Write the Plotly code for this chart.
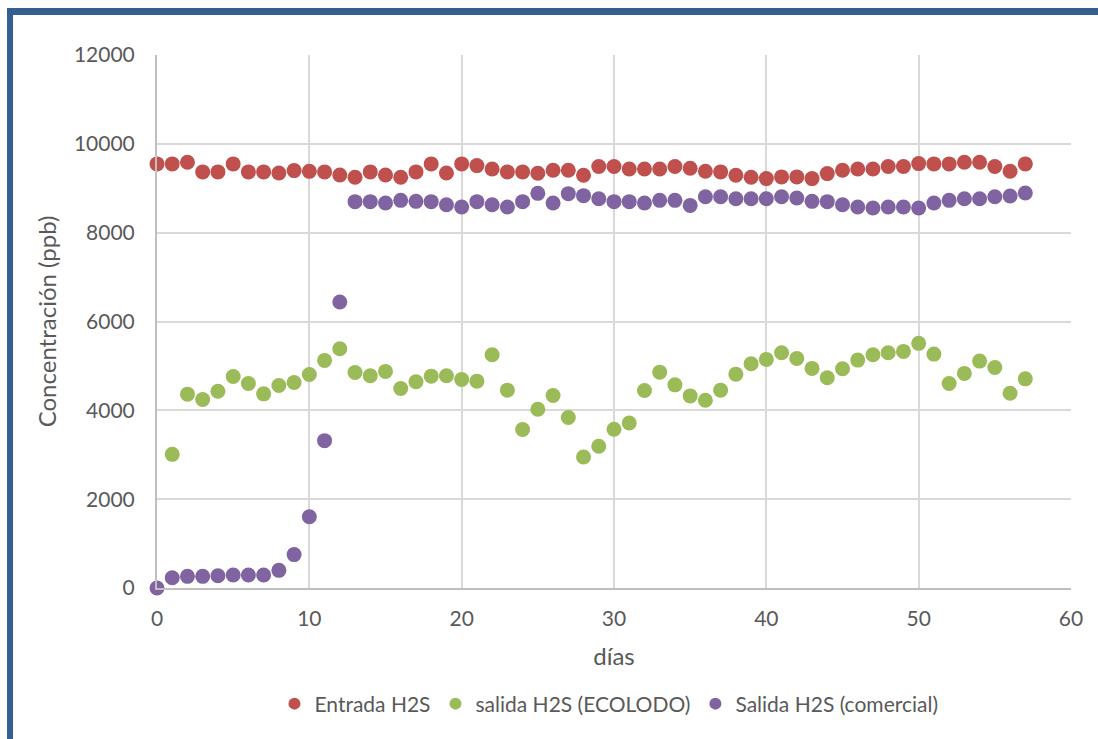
import plotly.graph_objects as go

dias = list(range(0, 58))

entrada_h2s = [9548, 9548, 9585, 9368, 9368, 9548, 9368, 9368, 9345, 9397,
               9380, 9368, 9300, 9246, 9368, 9300, 9246, 9368, 9548, 9345,
               9548, 9510, 9435, 9368, 9368, 9338, 9405, 9405, 9292, 9488,
               9488, 9435, 9435, 9435, 9488, 9450, 9383, 9368, 9292, 9246,
               9217, 9255, 9255, 9217, 9330, 9405, 9435, 9435, 9488, 9488,
               9555, 9548, 9548, 9585, 9585, 9488, 9383, 9548]

dias_ecolodo = list(range(1, 58))
salida_ecolodo = [3009, 4364, 4244, 4431, 4763, 4605, 4371, 4560, 4627,
                  4808, 5124, 5386, 4853, 4777, 4876, 4492, 4642, 4770, 4777,
                  4695, 4657, 5251, 4454, 3567, 4025, 4334, 3838, 2948, 3190,
                  3573, 3716, 4447, 4860, 4574, 4325, 4228, 4454, 4815, 5048,
                  5147, 5296, 5169, 4944, 4732, 4936, 5131, 5251, 5296, 5327,
                  5508, 5266, 4605, 4831, 5108, 4966, 4386, 4709]

salida_comercial = [0, 232, 262, 262, 275, 293, 293, 293, 397, 752,
                    1603, 3318, 6440, 8698, 8698, 8668, 8728, 8705, 8698, 8630,
                    8578, 8698, 8630, 8578, 8698, 8885, 8668, 8878, 8833, 8765,
                    8698, 8698, 8668, 8728, 8728, 8614, 8810, 8810, 8765, 8765,
                    8765, 8810, 8780, 8705, 8698, 8630, 8578, 8555, 8578, 8578,
                    8555, 8668, 8728, 8765, 8765, 8810, 8825, 8894]

x_ticks = [0, 10, 20, 30, 40, 50, 60]
y_ticks = [0, 2000, 4000, 6000, 8000, 10000, 12000]

FONT = "Lato"
TXT = "#595959"
GRID = "#D9D9D9"
BORDER = "#365F91"

fig = go.Figure()
fig.add_trace(go.Scatter(x=dias, y=entrada_h2s, mode="markers", name="Entrada H2S",
                         cliponaxis=False,
                         marker=dict(color="#C0504D", size=15, line=dict(width=0))))
fig.add_trace(go.Scatter(x=dias_ecolodo, y=salida_ecolodo, mode="markers",
                         name="salida H2S (ECOLODO)", cliponaxis=False,
                         marker=dict(color="#9BBB59", size=15, line=dict(width=0))))
fig.add_trace(go.Scatter(x=dias, y=salida_comercial, mode="markers",
                         name="Salida H2S (comercial)", cliponaxis=False,
                         marker=dict(color="#8064A2", size=15, line=dict(width=0))))

# frame (left and top edges of the chart border)
fig.add_shape(type="rect", xref="paper", yref="paper", x0=-0.1641, x1=-0.1575,
              y0=-0.35, y1=1.0882, fillcolor=BORDER, line=dict(width=0), layer="above")
fig.add_shape(type="rect", xref="paper", yref="paper", x0=-0.1641, x1=1.05,
              y0=1.0750, y1=1.0882, fillcolor=BORDER, line=dict(width=0), layer="above")

fig.update_layout(
    width=1098, height=739,
    margin=dict(l=157, r=27, t=55, b=151),
    paper_bgcolor="white", plot_bgcolor="white",
    font=dict(family=FONT, color=TXT, size=21),
    showlegend=True,
    legend=dict(orientation="h", x=0.4945, xanchor="center", y=-0.2176, yanchor="middle",
                font=dict(family=FONT, size=21, color=TXT), itemclick=False,
                itemsizing="constant", tracegroupgap=0),
    xaxis=dict(range=[0, 60], tickvals=x_ticks, ticktext=[str(v) for v in x_ticks],
               showgrid=True, gridcolor=GRID, gridwidth=2,
               showline=True, linecolor="#BFBFBF", linewidth=2,
               zeroline=False, ticks="", ticklabelstandoff=11,
               tickfont=dict(family=FONT, size=21, color=TXT),
               title=dict(text="días", font=dict(family=FONT, size=24, color=TXT), standoff=19)),
    yaxis=dict(range=[0, 12000], tickvals=y_ticks, ticktext=[str(v) for v in y_ticks],
               showgrid=True, gridcolor=GRID, gridwidth=2,
               showline=True, linecolor="#BFBFBF", linewidth=2,
               zeroline=False, ticks="", ticklabelstandoff=16,
               tickfont=dict(family=FONT, size=21, color=TXT),
               title=dict(text="Concentración (ppb)", font=dict(family=FONT, size=24, color=TXT),
                          standoff=10)),
)

fig.write_html("out.html", config={"displayModeBar": False},
               post_script="document.body.style.margin='0px';")
